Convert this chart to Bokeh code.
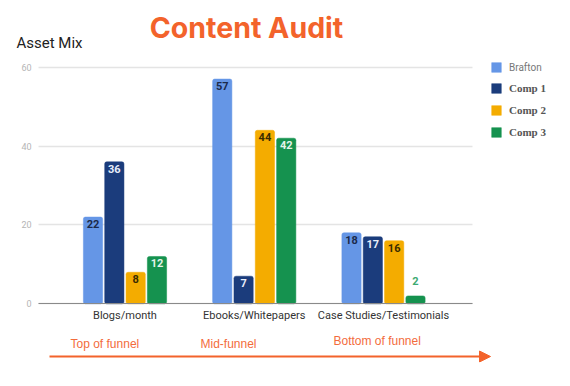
from bokeh.plotting import figure
from bokeh.models import (Range1d, FixedTicker, Label, Arrow, NormalHead,
                          Legend, LegendItem, ColumnDataSource)
from bokeh.core.properties import value
from bokeh.embed import file_html
from bokeh.resources import INLINE

# ---- data ----
categories = ["Blogs/month", "Ebooks/Whitepapers", "Case Studies/Testimonials"]
series_names = ["Brafton", "Comp 1", "Comp 2", "Comp 3"]
brafton = [22, 57, 18]
comp1 = [36, 7, 17]
comp2 = [8, 44, 16]
comp3 = [12, 42, 2]
y_ticks = [0, 20, 40, 60]
funnel_labels = ["Top of funnel", "Mid-funnel", "Bottom of funnel"]
chart_title = "Content Audit"
subtitle = "Asset Mix"

# ---- styles / layout ----
colors = ["#6596E6", "#1B3C7C", "#F4AC00", "#15924F"]
inside_text = ["#1B2A4A", "#E8EEFA", "#3A2C00", "#E4F3EA"]
outside_text = ["#6596E6", "#1B3C7C", "#F4AC00", "#3DAA72"]
orange = "#F3632B"
orange_light = "#F36C3C"
step = 0.165
bar_w = 0.149

W, H = 556, 384
FL, FB = 14, 22          # left / bottom borders (px)
X0_PX, X_SCALE = 124.5, 129.25   # pixel of category 0, px per category
Y0_PX, Y_SCALE = 303.3, 3.943    # pixel of value 0, px per unit


def px(x):
    return (x - X0_PX) / X_SCALE


def py(y):
    return (Y0_PX - y) / Y_SCALE


p = figure(width=W, height=H, title=None,
           x_range=Range1d(px(FL), px(W)), y_range=Range1d(py(H - FB), py(0)),
           output_backend="svg", toolbar_location=None,
           min_border_left=FL, min_border_right=0,
           min_border_top=0, min_border_bottom=FB)
p.outline_line_color = None
p.background_fill_color = "white"
p.border_fill_color = "white"

all_series = [brafton, comp1, comp2, comp3]
renderers = []
for i, (name, vals) in enumerate(zip(series_names, all_series)):
    off = (i - 1.5) * step
    xs = [k + off for k in range(len(categories))]
    src = ColumnDataSource(dict(x=xs, top=vals))
    r = p.vbar(x="x", top="top", bottom=0, width=bar_w, source=src,
               fill_color=colors[i], line_color=colors[i], line_width=0.5,
               border_radius=2)
    renderers.append(r)
    inside = dict(x=[x for x, v in zip(xs, vals) if v >= 5],
                  y=[v for v in vals if v >= 5],
                  t=[str(v) for v in vals if v >= 5])
    outside = dict(x=[x for x, v in zip(xs, vals) if v < 5],
                   y=[v for v in vals if v < 5],
                   t=[str(v) for v in vals if v < 5])
    p.text(x="x", y="y", text="t", source=ColumnDataSource(inside),
           text_align="center", text_baseline="top", y_offset=3,
           text_font=value("Roboto"), text_font_style="bold",
           text_font_size="11px", text_color=inside_text[i])
    p.text(x="x", y="y", text="t", source=ColumnDataSource(outside),
           text_align="center", text_baseline="bottom", y_offset=-11,
           text_font=value("Roboto"), text_font_style="bold",
           text_font_size="11px", text_color=outside_text[i])

# axes (placed inside the frame)
for ax in (p.xaxis[0], p.yaxis[0]):
    ax.major_tick_line_color = None
    ax.minor_tick_line_color = None
    ax.major_tick_out = 0
    ax.major_tick_in = 0
    ax.minor_tick_out = 0
    ax.minor_tick_in = 0

p.yaxis.fixed_location = px(31)
p.yaxis.ticker = FixedTicker(ticks=y_ticks)
p.yaxis.axis_line_color = None
p.yaxis.major_label_text_color = "#B5B5B5"
p.yaxis.major_label_text_font = "Roboto"
p.yaxis.major_label_text_font_size = "9px"
p.yaxis.major_label_standoff = 0

p.xaxis.fixed_location = 0
p.xaxis.bounds = (px(38), px(472))
p.xaxis.ticker = FixedTicker(ticks=list(range(len(categories))))
p.xaxis.major_label_overrides = {i: c for i, c in enumerate(categories)}
p.xaxis.axis_line_color = "#8A8A8A"
p.xaxis.axis_line_width = 1.2
p.xaxis.major_label_text_color = "#333333"
p.xaxis.major_label_text_font = "Roboto"
p.xaxis.major_label_text_font_size = "11px"
p.xaxis.major_label_standoff = 5

p.xgrid.grid_line_color = None
p.ygrid.grid_line_color = "#E4E4E4"
p.ygrid.grid_line_width = 1.3
try:
    p.ygrid.cross_bounds = (px(38), px(472))
except AttributeError:
    p.ygrid.grid_line_color = None
    p.segment(x0=px(38), x1=px(472), y0=y_ticks[1:], y1=y_ticks[1:],
              line_color="#E4E4E4", line_width=1.3, level="underlay")

# legends
leg_common = dict(orientation="vertical", glyph_width=12, glyph_height=12,
                  label_height=12, label_standoff=7, padding=0, margin=0,
                  spacing=10, border_line_color=None, background_fill_alpha=0)
leg1 = Legend(items=[LegendItem(label=series_names[0], renderers=[renderers[0]])],
              location=(490 - FL, (H - FB) - 73),
              label_text_font="Roboto", label_text_font_size="10px",
              label_text_color="#777777", **leg_common)
leg2 = Legend(items=[LegendItem(label=n, renderers=[r])
                     for n, r in zip(series_names[1:], renderers[1:])],
              location=(490 - FL, (H - FB) - 138),
              label_text_font="Liberation Serif", label_text_font_style="bold",
              label_text_font_size="11px", label_text_color="#555555",
              **leg_common)
p.add_layout(leg1, "center")
p.add_layout(leg2, "center")

# titles
p.add_layout(Label(x=px(246), y=py(27), text=chart_title,
                   text_align="center", text_baseline="middle",
                   text_font="Inter", text_font_style="bold",
                   text_font_size="28.5px", text_color=orange))
p.add_layout(Label(x=px(16), y=py(42), text=subtitle,
                   text_align="left", text_baseline="middle",
                   text_font="Roboto", text_font_size="15px",
                   text_color="#222222"))

# funnel labels and arrow
funnel_px = [(70, 343), (200, 343), (333, 340)]
for lab, (sx, sy) in zip(funnel_labels, funnel_px):
    p.add_layout(Label(x=px(sx), y=py(sy), text=lab,
                       text_align="left", text_baseline="middle",
                       text_font="Liberation Sans", text_font_size="12px",
                       text_color=orange_light))

p.add_layout(Arrow(x_start=px(49), y_start=py(356), x_end=px(490), y_end=py(356),
                   line_color=orange, line_width=2,
                   end=NormalHead(size=11, fill_color=orange, line_color=orange)))

open("out.html", "w").write(file_html(p, INLINE))
